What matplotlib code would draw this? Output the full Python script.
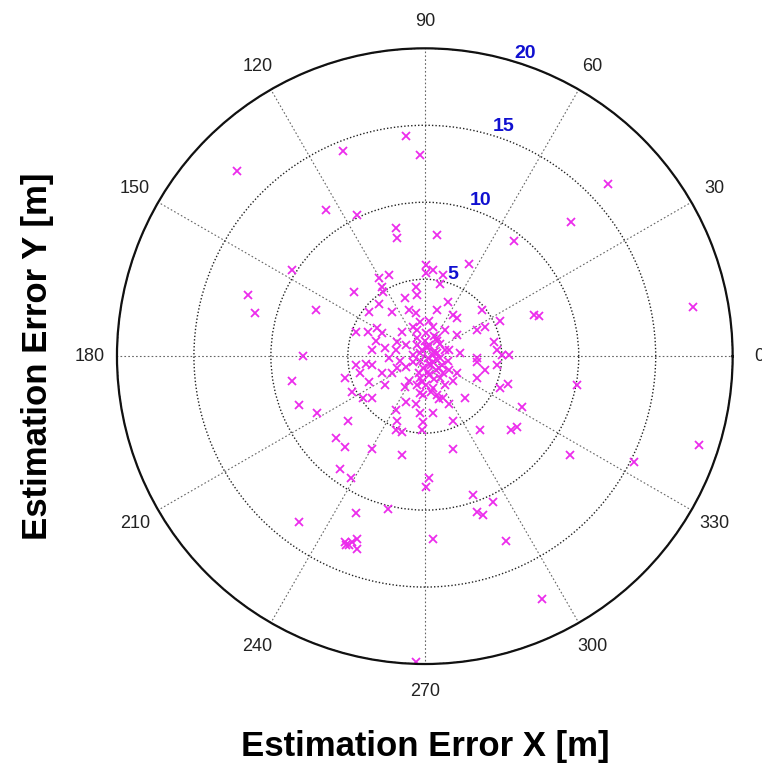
import matplotlib.pyplot as plt
import numpy as np

# Estimation errors (metres)
err_x = [-12.2, -1.2, -5.3, -0.3, -6.4, -4.4, -1.9, -1.8, 0.8, 5.8,
         11.9, 9.5, -8.6, -11.5, -11.0, -7.1, -7.9, -8.6, -8.2, -7.0,
         -8.2, -5.5, -4.8, 0.3, 0.1, 3.1, 4.4, 3.4, 3.8, -4.5,
         -2.4, 0.5, 5.3, -5.1, -4.9, -4.4, -4.4, -0.6, 13.6, 7.6,
         17.4, 7.1, 7.4, 9.9, 17.8, 9.4, -4.7, -5.2,
         -2.3, -3.0, -2.8, -4.6, -2.7, -1.3, -0.6, -0.5, -3.0, -2.1,
         -3.6, -1.0, -0.6, 0.1, 0.1, -3.7, -3.1, -2.8, -1.5, -0.8,
         -0.5, -4.5, -3.2, -1.8, -1.2, -0.5, -3.4, -2.6, -0.3, 0.1, -0.8,
         2.9, 0.5, 1.2, 1.0, 1.5, 3.7, 0.8, 1.8, 2.1, 4.9,
         3.4, 3.9, 2.1, 4.5, 4.7, 5.0, 5.5, 0.5, 0.8, 1.0, 1.6, 2.3, 3.4,
         -4.5, -3.8, -3.4, -4.2, -5.2, -2.8, -2.1, -3.6, -2.6, -4.7,
         -4.0, -3.4, -1.2, -1.0, -0.5, -1.3, -0.3, -1.2, -0.6, -1.9,
         -0.3, -1.8, -0.1, -1.9, -1.5, -5.0, -5.8, -5.2, -3.4, -1.5, -0.2,
         3.4, 4.7, 1.6, 2.1, 3.9, 3.4, 1.8, 5.4, 4.9, 2.6,
         1.2, 1.6, 6.3, 0.5, 1.8, 3.6, 5.6, 6.0, 1.8,
         0.0, 0.3, -0.2, 0.6, 0.2, -0.3, 0.5, 1.0, -0.5, 0.8,
         0.1, 1.3, -0.8, -0.1, 0.7, 1.1, 0.3, -0.3, 1.0, 1.3,
         0.1, 0.5, 0.8, -0.1, -1.6, -1.9, -2.3, -1.8, 0.3, -0.3, 1.3, 1.5,
         0.4, 0.7, 0.2, 0.9, 0.5, -0.2, 0.6, 1.2, 0.3, 0.8,
         -0.4, 0.4, 0.9, 0.2, 0.6]
err_y = [12.0, 14.3, 13.3, 13.1, 9.5, 9.2, 8.3, 7.7, 7.9, 7.5,
         11.2, 8.7, 5.6, 4.0, 2.8, 3.0, 0.0, -1.6, -3.2, -3.7,
         -10.8, -7.3, -7.9, -7.9, -8.5, -9.0, -9.5, -10.1, -10.3, -10.2,
         -9.9, -11.9, -12.0, -12.3, -12.3, -11.9, -12.5, -19.9, -6.9, -15.8,
         3.2, 2.7, 2.6, -1.9, -5.8, -6.4, -12.1, -12.1,
         5.3, 5.1, 4.5, 4.2, 4.2, 3.8, 4.5, 4.0, 3.4, 2.9,
         2.9, 3.0, 2.8, 5.4, 5.9, 1.6, 1.8, 1.5, 1.6, 1.9,
         1.7, 1.6, 1.0, 0.9, 0.7, 1.2, 0.4, 0.5, 0.2, 0.6, 0.1,
         6.0, 5.6, 5.3, 4.7, 3.5, 3.0, 3.0, 2.7, 2.5, 2.3,
         1.7, 1.9, 1.4, 0.9, 0.4, 0.1, 0.1, 1.9, 1.2, 0.8, 0.4, 0.2, -0.1,
         -0.6, -0.5, -0.6, -1.1, -1.4, -1.1, -1.1, -1.7, -1.9, -2.3,
         -2.7, -2.7, -0.7, -1.6, -1.9, -2.0, -2.4, -3.0, -3.1, -3.5,
         -3.7, -4.2, -4.3, -4.8, -4.9, -4.2, -5.3, -5.9, -6.0, -6.4, -4.8,
         -0.4, -0.6, -0.9, -1.1, -0.9, -1.4, -1.6, -1.8, -2.1, -2.7,
         -2.7, -3.1, -3.3, -3.7, -4.2, -4.8, -4.8, -4.6, -6.0,
         1.0, 0.7, 0.4, 0.3, -0.1, -0.3, -0.4, -0.1, 0.7, 1.0,
         1.5, 0.4, -0.4, -0.8, -0.9, -0.6, -1.2, -1.4, -1.4, -1.9,
         -1.9, -2.1, -2.5, -2.5, -0.3, 0.4, -0.1, -0.8, 2.3, 2.2, 1.7, -0.3,
         -0.6, -0.2, -1.0, -0.8, 0.1, -1.7, -1.5, -1.1, -0.5, 0.2,
         -1.1, -2.3, -2.8, 0.6, 1.3]

ring_values = [5, 10, 15, 20]
angle_ticks = [0, 30, 60, 90, 120, 150, 180, 210, 240, 270, 300, 330]

theta = np.arctan2(err_y, err_x)
radius = np.hypot(err_x, err_y)

fig = plt.figure(figsize=(7.62, 7.63), dpi=100)
ax = fig.add_axes([0.1535, 0.1297, 0.808, 0.807], projection='polar')

ax.plot(theta, radius, linestyle='none', marker='x', color='#ec2cec',
        markersize=5.5, markeredgewidth=1.3)

ax.set_ylim(0, 20)
ax.set_thetagrids(angle_ticks, [str(a) for a in angle_ticks],
                  fontsize=13, family='Liberation Sans', color='#222222')
ax.tick_params(axis='x', pad=9)
ax.set_rgrids(ring_values, [str(r) for r in ring_values], angle=73)
for lab in ax.get_yticklabels():
    lab.set_color('#1010d0')
    lab.set_fontweight('bold')
    lab.set_fontsize(14)
    lab.set_family('Liberation Sans')

ax.xaxis.grid(True, color='#666666', linestyle=(0, (1.5, 2)), linewidth=0.8)
ax.yaxis.grid(True, color='#222222', linestyle=(0, (1, 1.5)), linewidth=1.0)
ax.spines['polar'].set_linewidth(1.6)
ax.spines['polar'].set_color('#111111')

fig.text(0.558, 0.0, 'Estimation Error X [m]', ha='center', va='bottom',
         fontsize=25, fontweight='bold', family='Liberation Sans')
fig.text(0.049, 0.533, 'Estimation Error Y [m]', ha='center', va='center',
         rotation=90, fontsize=25, fontweight='bold', family='Liberation Sans')

fig.savefig('out.png', dpi=100)
